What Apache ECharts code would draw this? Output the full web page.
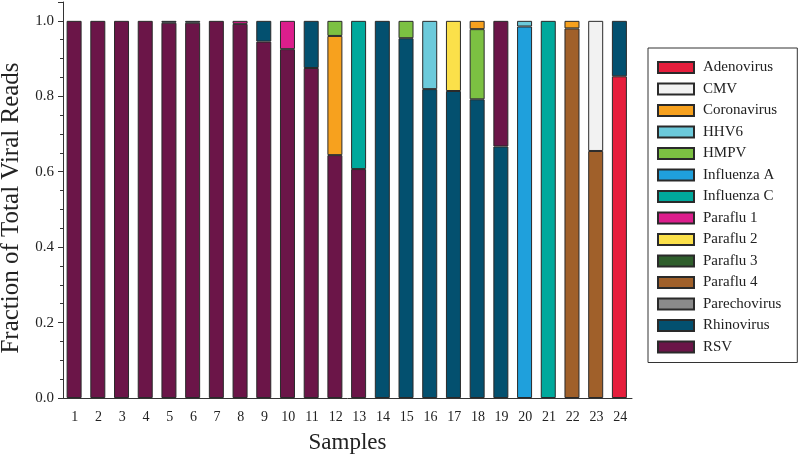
<!DOCTYPE html>
<html>
<head>
<meta charset="utf-8">
<script src="https://cdn.jsdelivr.net/npm/echarts@6/dist/echarts.min.js"></script>
<style>html,body{margin:0;padding:0;background:#fff}#c{width:800px;height:456px}</style>
</head>
<body>
<div id="c"></div>
<script>
const samples = ['1','2','3','4','5','6','7','8','9','10','11','12','13','14','15','16','17','18','19','20','21','22','23','24'];
const viruses = ['Adenovirus','CMV','Coronavirus','HHV6','HMPV','Influenza A','Influenza C','Paraflu 1','Paraflu 2','Paraflu 3','Paraflu 4','Parechovirus','Rhinovirus','RSV'];
const colors = ['#e61e3c','#f2f2f2','#f7a11e','#6ccadb','#7cc142','#1fa0dc','#00a99c','#dc1e8c','#fbe04a','#2f5e2c','#a0602a','#8a8a8a','#03506f','#6b1548'];

const adenovirus   = [0,0,0,0,0,0,0,0,0,0,0,0,0,0,0,0,0,0,0,0,0,0,0,0.853];
const cmv          = [0,0,0,0,0,0,0,0,0,0,0,0,0,0,0,0,0,0,0,0,0,0,0.345,0];
const coronavirus  = [0,0,0,0,0,0,0,0,0,0,0,0.316,0,0,0,0,0,0.022,0,0,0,0.02,0,0];
const hhv6         = [0,0,0,0,0,0,0,0,0,0,0,0,0,0,0,0.181,0,0,0,0.015,0,0,0,0];
const hmpv         = [0,0,0,0,0,0,0,0,0,0,0,0.04,0,0,0.046,0,0,0.186,0,0,0,0,0,0];
const influenzaA   = [0,0,0,0,0,0,0,0,0,0,0,0,0,0,0,0,0,0,0,0.985,0,0,0,0];
const influenzaC   = [0,0,0,0,0,0,0,0,0,0,0,0,0.393,0,0,0,0,0,0,0,1,0,0,0];
const paraflu1     = [0,0,0,0,0,0,0,0.008,0,0.075,0,0,0,0,0,0,0,0,0,0,0,0,0,0];
const paraflu2     = [0,0,0,0,0,0,0,0,0,0,0,0,0,0,0,0,0.186,0,0,0,0,0,0,0];
const paraflu3     = [0,0,0,0,0,0,0,0,0,0,0,0,0,0,0,0,0,0,0,0,0,0,0,0];
const paraflu4     = [0,0,0,0,0,0,0,0,0,0,0,0,0,0,0,0,0,0,0,0,0,0.98,0.655,0];
const parechovirus = [0,0,0,0,0,0,0,0,0,0,0,0,0,0,0,0,0,0,0,0,0,0,0,0];
const rhinovirus   = [0,0,0,0,0.005,0.005,0,0,0.055,0,0.125,0,0,1,0.954,0.819,0.814,0.792,0.667,0,0,0,0,0.147];
const rsv          = [1,1,1,1,0.995,0.995,1,0.992,0.945,0.925,0.875,0.644,0.607,0,0,0,0,0,0.333,0,0,0,0,0];

const valuesByVirus = [adenovirus,cmv,coronavirus,hhv6,hmpv,influenzaA,influenzaC,paraflu1,paraflu2,paraflu3,paraflu4,parechovirus,rhinovirus,rsv];

// In each sample, components are stacked largest at the bottom.
const layers = [];
samples.forEach((s, i) => {
  const comps = [];
  valuesByVirus.forEach((arr, v) => { if (arr[i] > 0) comps.push({v, val: arr[i]}); });
  comps.sort((a, b) => b.val - a.val);
  comps.forEach((c, k) => {
    if (!layers[k]) layers[k] = samples.map(() => '-');
    layers[k][i] = {value: c.val, itemStyle: {color: colors[c.v]}};
  });
});

const font = 'Liberation Serif';
const series = [];
layers.forEach((data, k) => {
  series.push({
    name: 'layer' + k, type: 'bar', stack: 'all', barWidth: 15, data,
    itemStyle: {borderColor: '#2a2a2a', borderWidth: 1}
  });
});
viruses.forEach((name, v) => {
  series.push({name, type: 'bar', stack: 'legend', data: [], itemStyle: {color: colors[v], borderColor: '#2a2a2a', borderWidth: 1}});
});

const chart = echarts.init(document.getElementById('c'));
chart.setOption({
  animation: false,
  backgroundColor: '#fff',
  textStyle: {fontFamily: font},
  grid: {left: 63, right: 168, top: 2, bottom: 58, containLabel: false, outerBoundsMode: 'none'},
  legend: {
    data: viruses, orient: 'vertical', left: 648, top: 48,
    itemWidth: 36, itemHeight: 11, itemGap: 6.5,
    borderColor: '#333', borderWidth: 1, padding: [12, 16, 8, 9],
    icon: 'rect', selectedMode: false,
    textStyle: {fontFamily: font, fontSize: 15, color: '#222', lineHeight: 15, padding: [0, 0, 0, 4]}
  },
  xAxis: {
    type: 'category', data: samples,
    name: 'Samples', nameLocation: 'middle', nameGap: 33,
    nameTextStyle: {fontFamily: font, fontSize: 23, color: '#222'},
    axisLine: {lineStyle: {color: '#333'}},
    axisTick: {alignWithLabel: true, length: 6, lineStyle: {color: '#333'}},
    axisLabel: {fontFamily: font, fontSize: 14, color: '#222', margin: 12}
  },
  yAxis: {
    type: 'value', min: 0, max: 1.05, interval: 0.2,
    name: 'Fraction of Total Viral Reads', nameLocation: 'middle', nameGap: 34,
    nameTextStyle: {fontFamily: font, fontSize: 25, color: '#222', padding: [0, 16, 0, 0]},
    axisLine: {show: true, lineStyle: {color: '#333'}},
    axisTick: {show: true, length: 5, lineStyle: {color: '#333'}},
    minorTick: {show: true, splitNumber: 4, length: 3, lineStyle: {color: '#333'}},
    splitLine: {show: false},
    axisLabel: {fontFamily: font, fontSize: 15, color: '#222', showMaxLabel: false, margin: 9,
      formatter: v => v.toFixed(1)}
  },
  series
});
</script>
</body>
</html>
